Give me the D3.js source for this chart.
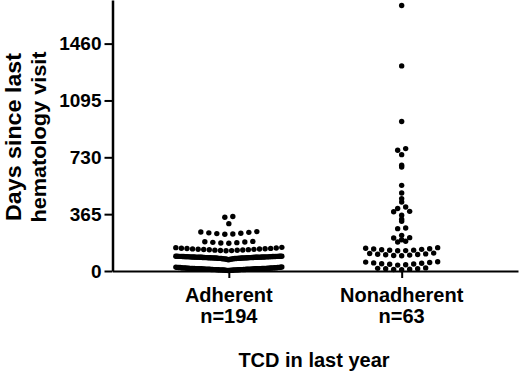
<!DOCTYPE html>
<html>
<head>
<meta charset="utf-8">
<script src="https://cdn.jsdelivr.net/npm/d3@7"></script>
<style>
  body { margin: 0; background: #fff; }
  text { font-family: "Liberation Sans", Arial, sans-serif; font-weight: bold; }
</style>
</head>
<body>
<svg width="520" height="380"></svg>
<script>
const width = 520, height = 380;
const svg = d3.select("svg");

// categories and labels
const groups = ["Adherent", "Nonadherent"];
const groupCounts = ["n=194", "n=63"];
const yTicks = [0, 365, 730, 1095, 1460];

// days since last visit, adherent group
const adherentBottom = [3,4,4,5,5,5,6,6,6,7,7,7,7,8,8,8,8,9,9,9,9,10,10,10,10,11,11,11,11,12,12,12,12,13,13,13,13,14,14,14,14,14,15,15,15,15,15,16,16,16,16,17,17,17,17,18,18,18,18,19,19,19,20,20,20,21,21,21,22,22,22,23,23,24,25,26];
const adherentMiddle = [72,74,75,76,77,78,78,79,79,80,80,80,81,81,81,82,82,82,83,83,83,83,84,84,84,84,85,85,85,85,85,86,86,86,86,87,87,87,87,88,88,88,88,88,89,89,89,89,89,90,90,90,90,90,90,91,91,91,91,91,92,92,92,92,92,93,93,93,93,93,94,94,94,94,94,95,95,95,95,95];
const adherentUpper = [130,131,132,133,134,135,136,137,138,139,140,141,142,143,144,145,146,148,150,152,
  178,180,182,184,186,188,190,
  236,238,240,242,245,248,250,253,
  304,345,350];

// nonadherent group
const nonadherentLow = [8,10,12,14,15,17,20,
  38,40,43,45,47,50,52,55,57,59,
  98,100,102,104,106,108,110,112,115,
  130,131,133,134,136,139,141,143,146,150];
const nonadherentHigh = [186,191,201,212,214,229,272,276,319,332,358,380,383,401,411,443,465,501,550,668,679,747,775,786,960,1317,1705];

const data = [
  { group: "Adherent", values: adherentBottom.concat(adherentMiddle, adherentUpper) },
  { group: "Nonadherent", values: nonadherentLow.concat(nonadherentHigh) }
];

const axisX = 112.5, axisY = 271;

const y = d3.scaleLinear().domain([0, 1740]).range([axisY, 0]);
const x = d3.scalePoint().domain(groups).range([axisX, 518]).padding(0.673);

const r = 2.7, gap = 8, maxHalf = 53, binDays = 32;

// row layout: same-bin points spread sideways, lowest in the middle
function layout(values, cx) {
  const bins = d3.group(values, v => Math.floor(v / binDays));
  const pts = [];
  for (const [, vals] of bins) {
    const s = vals.slice().sort(d3.ascending);
    const n = s.length;
    const step = n > 1 ? Math.min(gap, 2 * maxHalf / (n - 1)) : 0;
    s.forEach((v, i) => {
      let slot;
      if (n % 2) slot = i === 0 ? 0 : Math.ceil(i / 2) * (i % 2 ? -1 : 1);
      else slot = (Math.floor(i / 2) + 0.5) * (i % 2 ? 1 : -1);
      pts.push({ x: cx + slot * step, v });
    });
  }
  return pts;
}

const g = svg.append("g");

data.forEach(d => {
  g.append("g").selectAll("circle")
    .data(layout(d.values, x(d.group)))
    .enter().append("circle")
    .attr("cx", p => p.x)
    .attr("cy", p => y(p.v))
    .attr("r", r)
    .attr("fill", "#000");
});

// y axis
const yAxis = svg.append("g")
  .attr("transform", `translate(${axisX},0)`)
  .call(d3.axisLeft(y).tickValues(yTicks).tickFormat(d3.format("d"))
    .tickSize(8).tickPadding(3).tickSizeOuter(0));
yAxis.select(".domain").attr("stroke-width", 2.5);
yAxis.selectAll(".tick line").attr("stroke-width", 2);
yAxis.selectAll(".tick text").attr("font-size", 19).attr("fill", "#000");

// x axis
const xAxis = svg.append("g")
  .attr("transform", `translate(0,${axisY})`)
  .call(d3.axisBottom(x).tickSize(7).tickSizeOuter(0).tickFormat(""));
xAxis.select(".domain").attr("stroke-width", 2);
xAxis.selectAll(".tick line").attr("stroke-width", 2);

groups.forEach((grp, i) => {
  svg.append("text")
    .attr("x", x(grp)).attr("y", 302)
    .attr("text-anchor", "middle").attr("font-size", 20)
    .text(grp);
  svg.append("text")
    .attr("x", x(grp)).attr("y", 323)
    .attr("text-anchor", "middle").attr("font-size", 20)
    .text(groupCounts[i]);
});

svg.append("text")
  .attr("x", 314).attr("y", 367)
  .attr("text-anchor", "middle").attr("font-size", 20)
  .text("TCD in last year");

// y title: two lines, stretched a little along their length like the original
const yTitle = svg.append("g").attr("transform", "translate(0,137) rotate(-90)");
yTitle.append("text")
  .attr("x", 0).attr("y", 20.5).attr("text-anchor", "middle").attr("font-size", 21.5)
  .attr("textLength", 168).attr("lengthAdjust", "spacingAndGlyphs")
  .text("Days since last");
yTitle.append("text")
  .attr("x", 0).attr("y", 46).attr("text-anchor", "middle").attr("font-size", 19.5)
  .attr("textLength", 171).attr("lengthAdjust", "spacingAndGlyphs")
  .text("hematology visit");
</script>
</body>
</html>
